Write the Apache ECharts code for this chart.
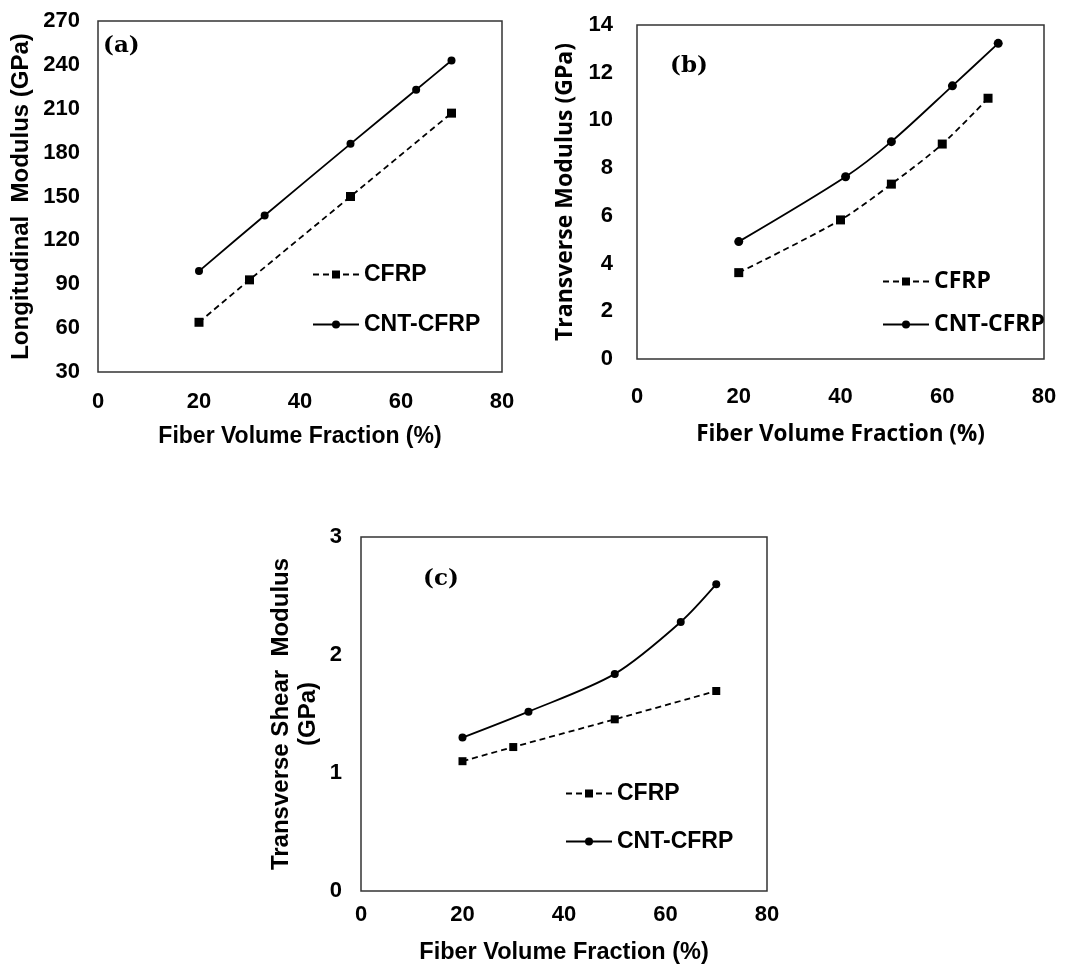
<!DOCTYPE html>
<html>
<head>
<meta charset="utf-8">
<script src="https://cdn.jsdelivr.net/npm/echarts@6/dist/echarts.min.js"></script>
<style>
  html, body { margin: 0; padding: 0; background: #fff; }
  #chart { width: 1076px; height: 966px; }
</style>
</head>
<body>
<div id="chart"></div>
<script>
// ---------- Data ----------
const seriesNames = ['CFRP', 'CNT-CFRP'];

// Panel (a) Longitudinal modulus (GPa)
const fiberA_CFRP = [20, 30, 50, 70];
const modA_CFRP   = [64, 93, 150, 207];
const fiberA_CNT  = [20, 33, 50, 63, 70];
const modA_CNT    = [99, 137, 186, 223, 243];

// Panel (b) Transverse modulus (GPa)
const fiberB_CFRP = [20, 40, 50, 60, 69];
const modB_CFRP   = [3.62, 5.83, 7.33, 9.01, 10.93];
const fiberB_CNT  = [20, 41, 50, 62, 71];
const modB_CNT    = [4.92, 7.64, 9.11, 11.45, 13.23];

// Panel (c) Transverse shear modulus (GPa)
const fiberC_CFRP = [20, 30, 50, 70];
const modC_CFRP   = [1.10, 1.22, 1.455, 1.695];
const fiberC_CNT  = [20, 33, 50, 63, 70];
const modC_CNT    = [1.30, 1.52, 1.84, 2.28, 2.60];

// Tick labels
const xTicks  = [0, 20, 40, 60, 80];
const yTicksA = [30, 60, 90, 120, 150, 180, 210, 240, 270];
const yTicksB = [0, 2, 4, 6, 8, 10, 12, 14];
const yTicksC = [0, 1, 2, 3];

// Texts
const xTitle = 'Fiber Volume Fraction (%)';
const yTitleA = 'Longitudinal  Modulus (GPa)';
const yTitleB = 'Transverse Modulus (GPa)';
const yTitleC = 'Transverse Shear  Modulus\n(GPa)';
const panelLabels = ['(a)', '(b)', '(c)'];

// ---------- Helpers ----------
const pair = (xs, ys) => xs.map((x, i) => [x, ys[i]]);
const ARIAL = '"Liberation Sans", Arial, sans-serif';
const CALIBRI = '"Open Sans", "Liberation Sans", sans-serif';
const SERIF = '"DejaVu Serif", "Liberation Serif", serif';

function xAxisCfg(gridIndex, labelMargin, nameGap, tickFont, titleFont, titleSize, tickSize) {
  return {
    type: 'value', gridIndex,
    min: xTicks[0], max: xTicks[xTicks.length - 1], interval: xTicks[1] - xTicks[0],
    axisLine: { show: false }, axisTick: { show: false }, splitLine: { show: false },
    axisLabel: { margin: labelMargin, color: '#000', fontWeight: 'bold', fontSize: tickSize, fontFamily: tickFont },
    name: xTitle, nameLocation: 'middle', nameGap,
    nameTextStyle: { color: '#000', fontWeight: 'bold', fontSize: titleSize, fontFamily: titleFont }
  };
}
function yAxisCfg(gridIndex, ticks, labelMargin, name, nameGap, tickFont, titleFont, titleSize, tickSize, lineHeight) {
  return {
    type: 'value', gridIndex,
    min: ticks[0], max: ticks[ticks.length - 1], interval: ticks[1] - ticks[0],
    axisLine: { show: false }, axisTick: { show: false }, splitLine: { show: false },
    axisLabel: { margin: labelMargin, color: '#000', fontWeight: 'bold', fontSize: tickSize, fontFamily: tickFont },
    name, nameLocation: 'middle', nameGap, nameRotate: 90,
    nameTextStyle: { color: '#000', fontWeight: 'bold', fontSize: titleSize, fontFamily: titleFont, lineHeight: lineHeight || titleSize * 1.2, align: 'center' }
  };
}
function cfrpSeries(idx, xs, ys, symSize) {
  return {
    name: seriesNames[0], type: 'line', xAxisIndex: idx, yAxisIndex: idx,
    data: pair(xs, ys), smooth: 0.3, symbol: 'rect', symbolSize: symSize,
    itemStyle: { color: '#000' },
    lineStyle: { color: '#000', width: 1.8, type: [6, 4] },
    emphasis: { disabled: true }, animation: false
  };
}
function cntSeries(idx, xs, ys, symSize) {
  return {
    name: seriesNames[1], type: 'line', xAxisIndex: idx, yAxisIndex: idx,
    data: pair(xs, ys), smooth: 0.3, symbol: 'circle', symbolSize: symSize,
    itemStyle: { color: '#000' },
    lineStyle: { color: '#000', width: 1.8, type: 'solid' },
    emphasis: { disabled: true }, animation: false
  };
}
function legendCfg(left, top, gap, font, size) {
  return {
    data: seriesNames, orient: 'vertical', left, top, padding: 0,
    itemWidth: 46, itemHeight: 10, itemGap: gap, selectedMode: false,
    textStyle: { color: '#000', fontWeight: 'bold', fontSize: size, fontFamily: font, padding: [0, 0, 0, 0] }
  };
}

const gridBox = { show: true, borderColor: '#333', borderWidth: 1.5, backgroundColor: 'transparent' };

const option = {
  backgroundColor: '#fff',
  animation: false,
  title: [
    { text: panelLabels[0], left: 103, top: 35, padding: 0, textStyle: { fontFamily: SERIF, fontWeight: 'bold', fontSize: 23, color: '#000' } },
    { text: panelLabels[1], left: 670, top: 55, padding: 0, textStyle: { fontFamily: SERIF, fontWeight: 'bold', fontSize: 23, color: '#000' } },
    { text: panelLabels[2], left: 423, top: 568, padding: 0, textStyle: { fontFamily: SERIF, fontWeight: 'bold', fontSize: 23, color: '#000' } }
  ],
  grid: [
    Object.assign({ left: 98, top: 21, width: 404, height: 351 }, gridBox),
    Object.assign({ left: 637, top: 25, width: 407, height: 334 }, gridBox),
    Object.assign({ left: 361, top: 537, width: 406, height: 354 }, gridBox)
  ],
  xAxis: [
    xAxisCfg(0, 19, 53, ARIAL, ARIAL, 23, 22),
    xAxisCfg(1, 27, 64, ARIAL, CALIBRI, 22.5, 22),
    xAxisCfg(2, 13, 50, ARIAL, ARIAL, 23.5, 22)
  ],
  yAxis: [
    yAxisCfg(0, yTicksA, 18, yTitleA, 62, ARIAL, ARIAL, 24, 22),
    yAxisCfg(1, yTicksB, 24, yTitleB, 58, ARIAL, CALIBRI, 23, 22),
    yAxisCfg(2, yTicksC, 19, yTitleC, 39, ARIAL, ARIAL, 24, 22, 27)
  ],
  legend: [
    legendCfg(312, 263, 27, ARIAL, 23),
    legendCfg(882, 270, 20, CALIBRI, 23),
    legendCfg(565, 782, 25, ARIAL, 23)
  ],
  series: [
    cfrpSeries(0, fiberA_CFRP, modA_CFRP, 9),
    cntSeries(0, fiberA_CNT, modA_CNT, 8),
    cfrpSeries(1, fiberB_CFRP, modB_CFRP, 9),
    cntSeries(1, fiberB_CNT, modB_CNT, 9),
    cfrpSeries(2, fiberC_CFRP, modC_CFRP, 8),
    cntSeries(2, fiberC_CNT, modC_CNT, 8)
  ]
};

const chart = echarts.init(document.getElementById('chart'), null, { renderer: 'canvas' });
chart.setOption(option);
</script>
</body>
</html>
